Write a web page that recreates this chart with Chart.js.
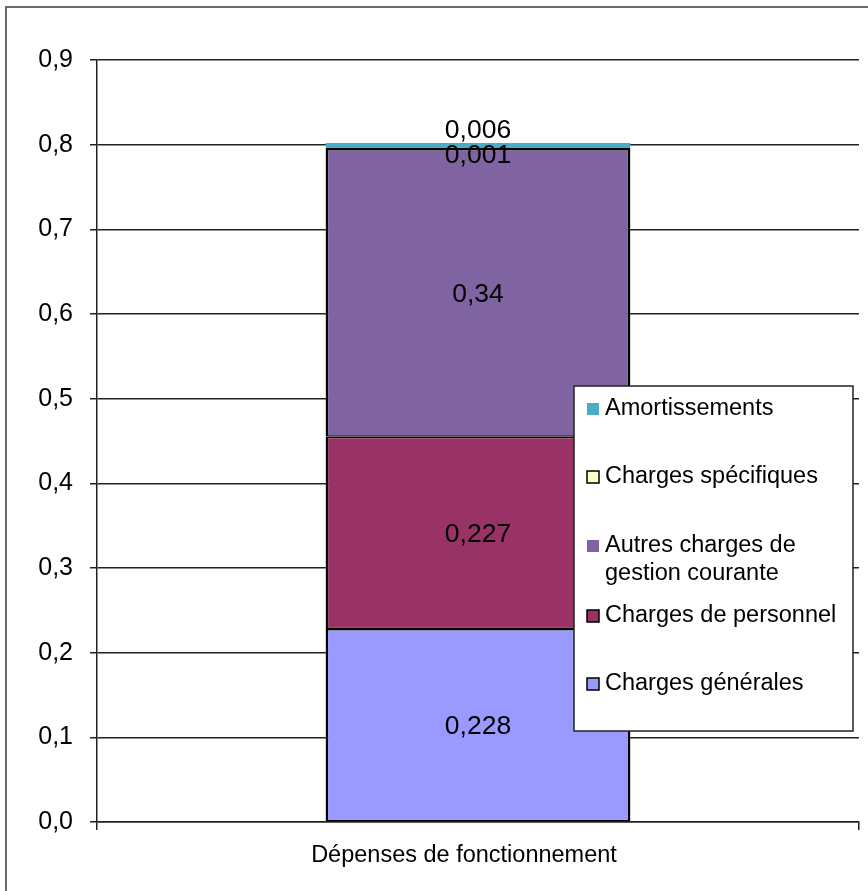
<!DOCTYPE html>
<html lang="fr">
<head>
    <meta charset="UTF-8">
    <title>Dépenses de fonctionnement</title>
    <style>
        body{
            margin: 0;
            background-color: #fff;
            overflow: hidden;
        }
        .frame{
            position: absolute;
            left: 5px;
            top: 6px;
            width: 900px;
            height: 900px;
            border: 2px solid #6a6a6a;
        }
        #chart{
            position: absolute;
            left: 0;
            top: 0;
        }
    </style>
</head>
<body>
    <div class="frame"></div>
    <canvas id="chart" width="868" height="891"></canvas>

    <script src="https://cdn.jsdelivr.net/npm/chart.js"></script>
    <script>
        // data
        const categories = ['Dépenses de fonctionnement'];
        const chargesGenerales = [0.228];
        const chargesPersonnel = [0.227];
        const autresCharges = [0.34];
        const chargesSpecifiques = [0.001];
        const amortissements = [0.006];
        const yTicks = [0, 0.1, 0.2, 0.3, 0.4, 0.5, 0.6, 0.7, 0.8, 0.9];

        const fontFamily = '"Liberation Sans", Arial, sans-serif';

        const toComma = v => String(v).replace('.', ',');

        // value labels in the middle of each segment (tiny ones nudged like the original)
        const labelNudge = { 3: 5, 4: -17 };
        const valueLabels = {
            id: 'valueLabels',
            afterDatasetsDraw(chart) {
                const ctx = chart.ctx;
                ctx.save();
                ctx.font = '26.5px ' + fontFamily;
                ctx.fillStyle = '#000';
                ctx.textAlign = 'center';
                ctx.textBaseline = 'middle';
                chart.data.datasets.forEach((ds, i) => {
                    chart.getDatasetMeta(i).data.forEach((bar, j) => {
                        const y = (bar.y + bar.base) / 2 + 2 + (labelNudge[i] || 0);
                        ctx.fillText(toComma(ds.data[j]), bar.x, y);
                    });
                });
                ctx.restore();
            }
        };

        // boxed legend drawn over the plot like the original
        const boxLegend = {
            id: 'boxLegend',
            afterDraw(chart) {
                const ctx = chart.ctx;
                const box = { x: 574, y: 386, w: 279, h: 345 };
                const rowY = [409, 477, 546, 616, 684];
                ctx.save();
                ctx.fillStyle = '#fff';
                ctx.fillRect(box.x, box.y, box.w, box.h);
                ctx.strokeStyle = '#222';
                ctx.lineWidth = 1.5;
                ctx.strokeRect(box.x, box.y, box.w, box.h);
                ctx.font = '23.5px ' + fontFamily;
                ctx.textBaseline = 'middle';
                const items = chart.data.datasets.slice().reverse();
                items.forEach((ds, k) => {
                    const y = rowY[k];
                    ctx.fillStyle = ds.backgroundColor;
                    ctx.fillRect(587, y - 6, 12, 12);
                    if (ds.label !== 'Amortissements' && ds.label !== 'Autres charges de gestion courante') {
                        ctx.strokeStyle = '#000';
                        ctx.lineWidth = 1.5;
                        ctx.strokeRect(587, y - 6, 12, 12);
                    }
                    // wrap long labels
                    const words = ds.label.split(' ');
                    const lines = [];
                    let line = '';
                    words.forEach(w => {
                        const test = line ? line + ' ' + w : w;
                        if (ctx.measureText(test).width > 240 && line) {
                            lines.push(line);
                            line = w;
                        } else {
                            line = test;
                        }
                    });
                    lines.push(line);
                    ctx.fillStyle = '#000';
                    lines.forEach((l, n) => ctx.fillText(l, 605, y + n * 28));
                });
                ctx.restore();
            }
        };

        const barCommon = {
            borderColor: '#000',
            borderWidth: { top: 1.5, bottom: 1.5, left: 2.5, right: 2.5 },
            borderSkipped: false,
            barPercentage: 0.4,
            categoryPercentage: 1
        };

        const chart = new Chart(document.getElementById('chart'), {
            type: 'bar',
            data: {
                labels: categories,
                datasets: [
                    { ...barCommon, label: 'Charges générales', data: chargesGenerales, backgroundColor: '#9999FF' },
                    { ...barCommon, label: 'Charges de personnel', data: chargesPersonnel, backgroundColor: '#993366' },
                    { ...barCommon, label: 'Autres charges de gestion courante', data: autresCharges, backgroundColor: '#8064A2' },
                    { ...barCommon, label: 'Charges spécifiques', data: chargesSpecifiques, backgroundColor: '#FFFFCC' },
                    { ...barCommon, label: 'Amortissements', data: amortissements, backgroundColor: '#4BACC6', borderWidth: 0 }
                ]
            },
            options: {
                responsive: false,
                animation: false,
                layout: { padding: { top: 60, right: 9, left: 0, bottom: 0 } },
                plugins: {
                    legend: { display: false },
                    tooltip: { enabled: false }
                },
                scales: {
                    x: {
                        stacked: true,
                        afterFit: s => { s.height = 69; },
                        grid: { drawOnChartArea: false, drawTicks: true, tickLength: 8, color: '#222', lineWidth: 1.5 },
                        border: { display: true, color: '#222', width: 1.5 },
                        ticks: { color: '#000', padding: 11, labelOffset: -14, font: { family: fontFamily, size: 23.5 } }
                    },
                    y: {
                        stacked: true,
                        min: 0,
                        max: 0.9,
                        afterFit: s => { s.width = 97; },
                        afterBuildTicks: s => { s.ticks = yTicks.map(v => ({ value: v })); },
                        grid: { color: '#222', lineWidth: 1.5, tickLength: 7 },
                        border: { display: true, color: '#222', width: 1.5 },
                        ticks: {
                            color: '#000',
                            padding: 17,
                            font: { family: fontFamily, size: 25 },
                            callback: v => v.toFixed(1).replace('.', ',')
                        }
                    }
                }
            },
            plugins: [valueLabels, boxLegend]
        });
    </script>
</body>
</html>
